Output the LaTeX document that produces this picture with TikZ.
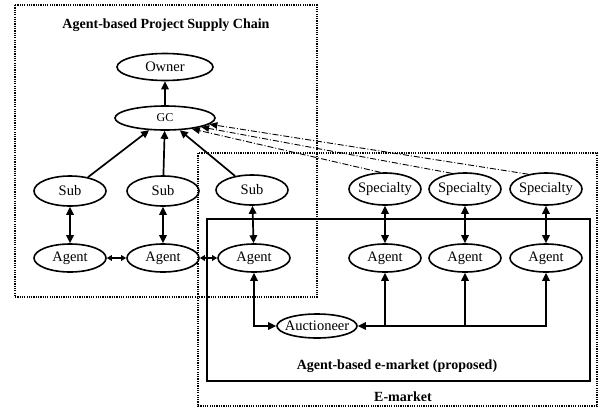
\documentclass[tikz,border=0pt]{standalone}
\usepackage{fontspec}
\setmainfont{Liberation Serif}
\usetikzlibrary{shapes.geometric,arrows.meta}
\begin{document}
\begin{tikzpicture}[x=1pt,y=-1pt,
 ell/.style={ellipse,draw,line width=1.6pt,inner sep=0pt,font=\fontsize{14.5}{16}\selectfont},
 arr/.style={line width=1.7pt,-{Triangle[length=8pt,width=7.5pt]}},
 darr/.style={line width=1.7pt,{Triangle[length=8pt,width=7.5pt]}-{Triangle[length=8pt,width=7.5pt]}},
 sarr/.style={line width=1.4pt,{Triangle[length=5pt,width=5.5pt]}-{Triangle[length=5pt,width=5.5pt]}},
 dd/.style={line width=0.9pt,dash pattern=on 6pt off 2pt on 1pt off 2pt,-{Triangle[length=8pt,width=6.5pt]}},
 dotbox/.style={line width=1.9pt,dash pattern=on 1.2pt off 1.1pt},
 lbl/.style={font=\bfseries\fontsize{14}{16}\selectfont}
]
\useasboundingbox (0,0) rectangle (600,410);
\draw[dotbox] (15,5) rectangle (317,297);
\draw[dotbox] (198,153) rectangle (597,406);
\draw[line width=2pt] (207,219) rectangle (590,381);

\node[lbl] (t1) at (166,25) {Agent-based Project Supply Chain};
\node[lbl] (t2) at (397,366) {Agent-based e-market (proposed)};
\node[lbl] (t3) at (403,397) {E-market};

\node[ell,minimum width=96pt,minimum height=27pt] (owner) at (165,67) {\makebox[0pt]{Owner}};
\node[ell,minimum width=100pt,minimum height=24pt,font=\fontsize{12}{14}\selectfont] (gc) at (165,118) {\makebox[0pt]{GC}};

\node[ell,minimum width=72pt,minimum height=30pt] (sub1) at (70,191) {\makebox[0pt]{Sub}};
\node[ell,minimum width=72pt,minimum height=30pt] (sub2) at (163,191) {\makebox[0pt]{Sub}};
\node[ell,minimum width=72pt,minimum height=30pt] (sub3) at (252,190) {\makebox[0pt]{Sub}};

\node[ell,minimum width=72pt,minimum height=28pt] (ag1) at (70,258) {\makebox[0pt]{Agent}};
\node[ell,minimum width=72pt,minimum height=28pt] (ag2) at (163,258) {\makebox[0pt]{Agent}};
\node[ell,minimum width=72pt,minimum height=28pt] (ag3) at (254,258) {\makebox[0pt]{Agent}};

\node[ell,minimum width=72pt,minimum height=32pt] (sp1) at (385,189) {\makebox[0pt]{Specialty}};
\node[ell,minimum width=72pt,minimum height=32pt] (sp2) at (465,189) {\makebox[0pt]{Specialty}};
\node[ell,minimum width=72pt,minimum height=32pt] (sp3) at (546,189) {\makebox[0pt]{Specialty}};

\node[ell,minimum width=72pt,minimum height=28pt] (ag4) at (385,258) {\makebox[0pt]{Agent}};
\node[ell,minimum width=72pt,minimum height=28pt] (ag5) at (465,258) {\makebox[0pt]{Agent}};
\node[ell,minimum width=72pt,minimum height=28pt] (ag6) at (546,258) {\makebox[0pt]{Agent}};

\node[ell,minimum width=80pt,minimum height=24pt] (auc) at (317,326) {\makebox[0pt]{Auctioneer}};

\draw[arr] (gc) -- (owner);
\draw[arr] (sub1) -- (gc);
\draw[arr] (sub2) -- (gc);
\draw[arr] (sub3) -- (gc);

\draw[darr] (sub1) -- (ag1);
\draw[darr] (sub2) -- (ag2);
\draw[darr] (sub3) -- (ag3);
\draw[sarr] (ag1) -- (ag2);
\draw[sarr] (ag2) -- (ag3);

\draw[darr] (sp1) -- (ag4);
\draw[darr] (sp2) -- (ag5);
\draw[darr] (sp3) -- (ag6);

\draw[darr] (ag3.south) |- (auc.west);
\coordinate (j4) at (ag4.south |- auc.east);
\coordinate (j5) at (ag5.south |- auc.east);
\coordinate (j6) at (ag6.south |- auc.east);
\draw[darr] (auc.east) -- (j6) -- (ag6.south);
\draw[arr] (j4) -- (ag4.south);
\draw[arr] (j5) -- (ag5.south);

\draw[dd] (sp1.105) -- (gc.-22);
\draw[dd] (sp2.130) -- (gc.-14);
\draw[dd] (sp3.140) -- (gc.-8);
\end{tikzpicture}
\end{document}
